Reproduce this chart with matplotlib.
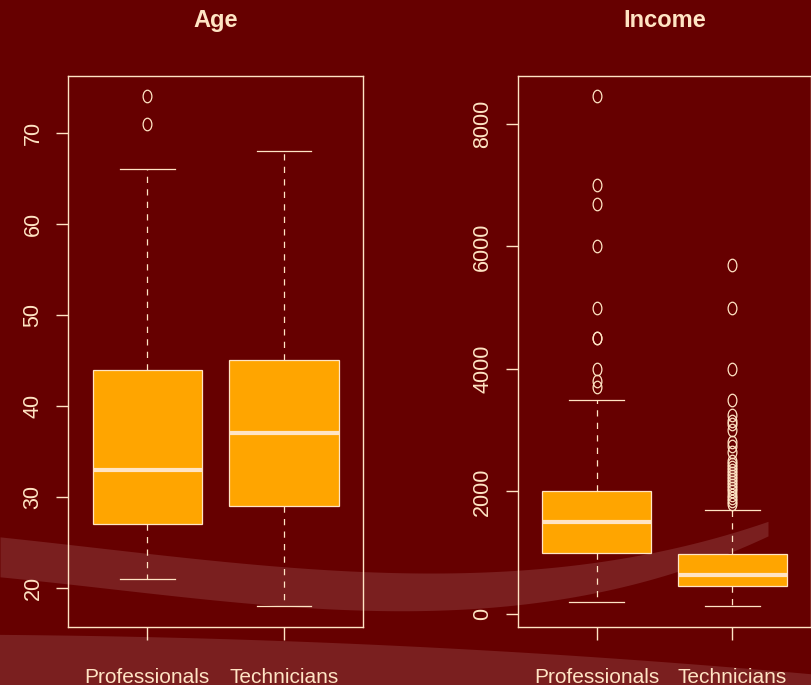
import numpy as np
import matplotlib as mpl
import matplotlib.pyplot as plt
from matplotlib.path import Path

mpl.use('Agg')

plt.rcParams['font.family'] = ['Liberation Sans', 'DejaVu Sans']

groups = ["Professionals", "Technicians"]

# age summaries: lower whisker, Q1, median, Q3, upper whisker, outliers
age_whislo = [21, 18]
age_q1 = [27, 29]
age_med = [33, 37]
age_q3 = [44, 45]
age_whishi = [66, 68]
age_fliers = [[71, 74], []]

# income summaries
inc_whislo = [200, 125]
inc_q1 = [1000, 460]
inc_med = [1500, 630]
inc_q3 = [2000, 980]
inc_whishi = [3500, 1700]
inc_fliers = [
    [3700, 3800, 4000, 4500, 4500, 5000, 6000, 6700, 7000, 8450],
    [1800, 1850, 1900, 1950, 2000, 2050, 2100, 2150, 2200, 2250, 2300,
     2350, 2400, 2450, 2500, 2650, 2750, 2800, 3000, 3100, 3150, 3250,
     3500, 4000, 5000, 5700],
]

age_ticks = [20, 30, 40, 50, 60, 70]
inc_ticks = [0, 2000, 4000, 6000, 8000]

# slide background swoosh (pixel coords, y down)
band_x = [0, 120, 200, 300, 406, 480, 560, 660, 768]
band_top = [540, 545, 556, 570, 580, 574, 563, 545, 525]
band_bot = [580, 585, 595, 608, 620, 610, 595, 570, 540]
floor_x = [0, 120, 200, 406, 600, 812]
floor_top = [637, 635, 636, 647, 660, 673]

bg = '#660000'
swoosh = '#7A1F1F'
peach = '#FFE4C4'
orange = '#FFA500'

W, H = 812, 685
fig = plt.figure(figsize=(W / 100, H / 100), dpi=100, facecolor=bg)


def smooth(xs, ys, x_end, deg=3):
    # smooth curve through the outline points
    xx = np.linspace(xs[0], x_end, 200)
    return xx, np.polyval(np.polyfit(xs, ys, deg), xx)


back = fig.add_axes([0, 0, 1, 1], zorder=0)
back.set_xlim(0, W)
back.set_ylim(H, 0)
back.axis('off')
bx, bt = smooth(band_x, band_top, band_x[-1])
_, bb = smooth(band_x, band_bot, band_x[-1])
back.fill_between(bx, bt, bb, color=swoosh, lw=0)
fx, ft = smooth(floor_x, floor_top, floor_x[-1], deg=2)
back.fill_between(fx, ft, H, color=swoosh, lw=0)

# R draws pch=1 slightly taller than wide here
circ = Path.unit_circle()
oval = Path(circ.vertices * np.array([0.7, 1.0]), circ.codes)


def stats(lo, q1, med, q3, hi, fl):
    return [dict(whislo=lo[i], q1=q1[i], med=med[i], q3=q3[i], whishi=hi[i],
                 fliers=fl[i], label=groups[i]) for i in range(len(groups))]


def panel(rect, title, st, ticks):
    ax = fig.add_axes(rect, zorder=1)
    ax.patch.set_alpha(0)
    ax.bxp(st, positions=[1, 2], widths=0.8, capwidths=0.4, patch_artist=True,
           boxprops=dict(facecolor=orange, edgecolor=peach, lw=0.9),
           medianprops=dict(color=peach, lw=3.0, solid_capstyle='butt'),
           whiskerprops=dict(color=peach, lw=0.9, linestyle=(0, (5, 5))),
           capprops=dict(color=peach, lw=0.9),
           flierprops=dict(marker=oval, markersize=9, markerfacecolor='none',
                           markeredgecolor=peach, markeredgewidth=0.9))
    vals = [v for s in st for v in [s['whislo'], s['whishi']] + list(s['fliers'])]
    lo, hi = min(vals), max(vals)
    pad = (hi - lo) * 0.04
    ax.set_ylim(lo - pad, hi + pad)
    ax.set_xlim(0.42, 2.58)
    ax.set_yticks(ticks)
    ax.set_yticklabels([str(t) for t in ticks])
    ax.set_xticks([1, 2])
    ax.set_xticklabels(groups)
    for sp in ax.spines.values():
        sp.set_color(peach)
        sp.set_linewidth(1.0)
    ax.tick_params(axis='y', colors=peach, length=8.6, width=1.0, pad=9,
                   labelsize=15.5, labelrotation=90)
    ax.tick_params(axis='x', colors=peach, length=9.4, width=1.0, pad=20,
                   labelsize=15)
    for lbl in ax.get_yticklabels():
        lbl.set_va('center')
    ax.set_title(title, color=peach, fontsize=17, fontweight='bold', pad=35)
    return ax


bottom = 1 - 626.7 / H
top = 1 - 76 / H
panel([68 / W, bottom, (363.3 - 68) / W, top - bottom], "Age",
      stats(age_whislo, age_q1, age_med, age_q3, age_whishi, age_fliers),
      age_ticks)
panel([517.7 / W, bottom, (811.3 - 517.7) / W, top - bottom], "Income",
      stats(inc_whislo, inc_q1, inc_med, inc_q3, inc_whishi, inc_fliers),
      inc_ticks)

fig.savefig('out.png', dpi=100, facecolor=bg)
